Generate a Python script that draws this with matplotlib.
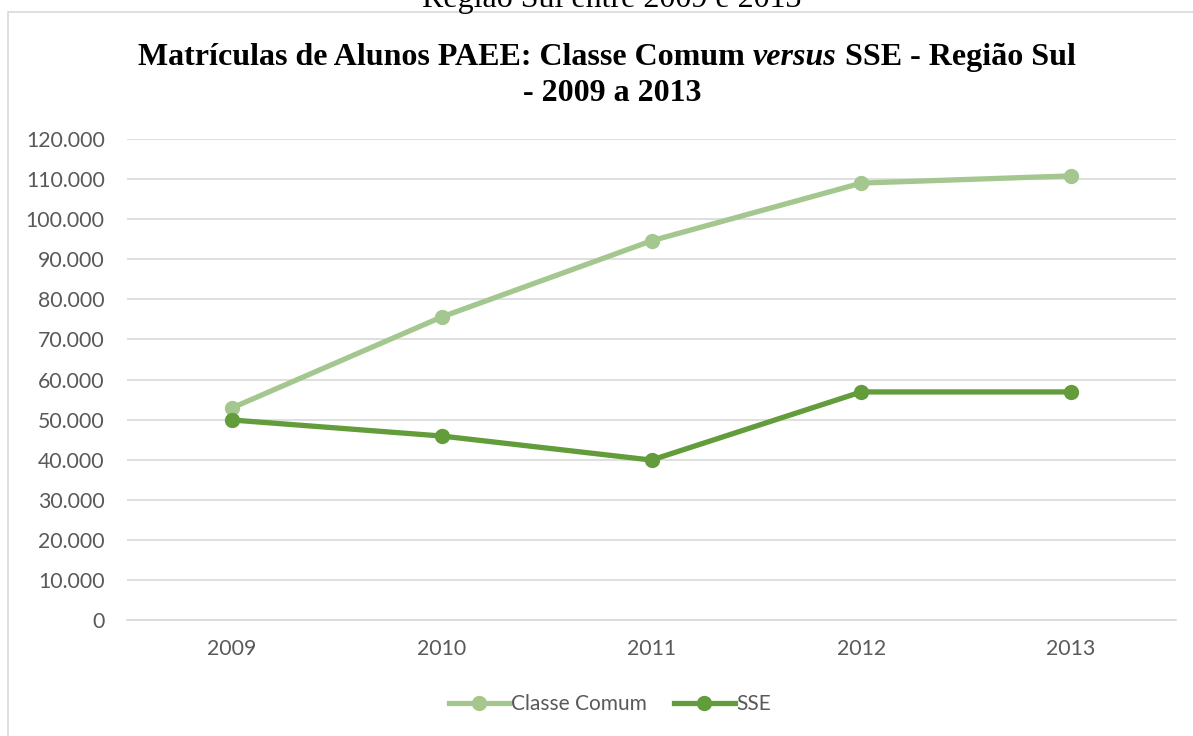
import matplotlib
matplotlib.use("Agg")
import matplotlib.pyplot as plt
from matplotlib.patches import Rectangle
from matplotlib.ticker import FuncFormatter
from matplotlib.lines import Line2D

years = ["2009", "2010", "2011", "2012", "2013"]
classe_comum = [52900, 75600, 94600, 109000, 110800]
sse = [49900, 45900, 39900, 56900, 56900]
series_names = ["Classe Comum", "SSE"]
yticks = list(range(0, 120001, 10000))

W, H = 1193, 736
fig = plt.figure(figsize=(W / 100, H / 100), dpi=100)
fig.patch.set_facecolor("white")

# chart frame
fig.add_artist(Rectangle((8 / W, -0.1), 1.2, (H - 12) / H + 0.1, transform=fig.transFigure,
                         facecolor="none", edgecolor="#D9D9D9", lw=1.2))

ax = fig.add_axes([127 / W, 1 - 620 / H, (1176 - 127) / W, (620 - 139) / H])
c1 = "#A3C78F"
c2 = "#629C3B"
x = range(len(years))
ax.plot(x, classe_comum, color=c1, lw=3.8, marker="o", ms=10, label=series_names[0],
        solid_capstyle="round", zorder=3)
ax.plot(x, sse, color=c2, lw=3.8, marker="o", ms=10, label=series_names[1],
        solid_capstyle="round", zorder=3)

ax.set_xlim(-0.5, 4.5)
ax.set_ylim(0, 120000)
ax.set_yticks(yticks)
ax.yaxis.set_major_formatter(FuncFormatter(lambda v, p: f"{int(v):,}".replace(",", ".")))
ax.set_xticks(list(x))
ax.set_xticklabels(years)
ax.grid(axis="y", color="#D9D9D9", lw=1.2)
ax.set_axisbelow(True)
for s in ["left", "right", "top"]:
    ax.spines[s].set_visible(False)
ax.spines["bottom"].set_color("#D9D9D9")
ax.spines["bottom"].set_linewidth(1.2)
ax.tick_params(axis="both", length=0, labelsize=15.3, labelcolor="#595959")
ax.tick_params(axis="y", pad=16)
ax.tick_params(axis="x", pad=14)
for lab in ax.get_xticklabels() + ax.get_yticklabels():
    lab.set_fontfamily("Lato")

handles = [Line2D([], [], color=c1, lw=3.8, marker="o", ms=10),
           Line2D([], [], color=c2, lw=3.8, marker="o", ms=10)]
leg = fig.legend(handles, series_names, loc="center", bbox_to_anchor=(610 / W, 1 - 704 / H),
                 ncol=2, frameon=False, prop={"family": "Lato", "size": 15},
                 handlelength=2.9, handletextpad=0.1, columnspacing=1.3)
for t in leg.get_texts():
    t.set_color("#595959")

# header text (cut off at top, as in the reference)
fig.text(612 / W, 1 - 7 / H, "Região Sul entre 2009 e 2013", ha="center", va="baseline",
         family="Liberation Serif", fontsize=23, color="black")

# title with mixed styles
renderer = fig.canvas.get_renderer()
tsize = 23
parts = [("Matrículas de Alunos PAEE: Classe Comum ", "normal"),
         ("versus", "italic"),
         (" SSE - Região Sul", "normal")]
texts = []
for s, st in parts:
    t = fig.text(0, 1 - 65 / H, s, ha="left", va="baseline", family="Liberation Serif",
                 fontweight="bold", style=st, fontsize=tsize)
    texts.append(t)
widths = [t.get_window_extent(renderer).width for t in texts]
total = sum(widths)
xstart = 607 - total / 2
for t, w in zip(texts, widths):
    t.set_x(xstart / W)
    xstart += w
fig.text(612 / W, 1 - 101 / H, "- 2009 a 2013", ha="center", va="baseline",
         family="Liberation Serif", fontweight="bold", fontsize=tsize)

fig.savefig("out.png", dpi=100)
